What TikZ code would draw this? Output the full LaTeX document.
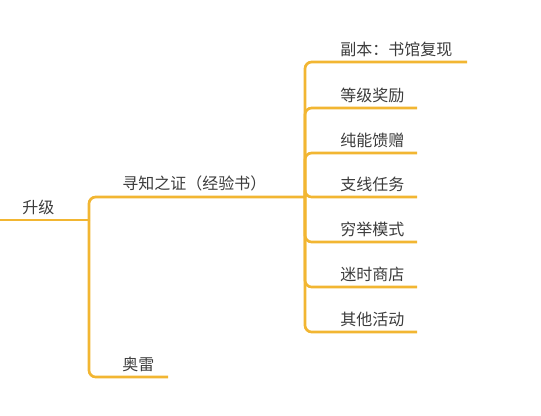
\documentclass[tikz,border=0pt]{standalone}
\usepackage{fontspec}
\newfontfamily\cjk{Noto Sans CJK SC}

\definecolor{branchgold}{HTML}{F2B632}
\definecolor{topicgray}{HTML}{3C3C3C}

\tikzset{
	branch/.style = {draw = branchgold, line width = 2, rounded corners = 5},
	topic/.style  = {anchor = south west, inner xsep = 0, inner ysep = 4,
					 text = topicgray, font = \cjk\fontsize{12}{14}\selectfont},
}

\begin{document}
\begin{tikzpicture}[x = 0.75pt, y = -0.75pt]

	\useasboundingbox (0,0) rectangle (541,415);

	% topics
	\node[topic] (up)    at (22,220)  {升级};
	\node[topic] (proof) at (122,197) {寻知之证（经验书）};
	\node[topic] (ore)   at (122,377) {奥雷};

	\node[topic] (copy)   at (340,62)  {副本：书馆复现};
	\node[topic] (reward) at (340,108) {等级奖励};
	\node[topic] (gift)   at (340,153) {纯能馈赠};
	\node[topic] (quest)  at (340,197) {支线任务};
	\node[topic] (exhaust)at (340,242) {穷举模式};
	\node[topic] (shop)   at (340,287) {迷时商店};
	\node[topic] (other)  at (340,332) {其他活动};

	\coordinate (up-start) at (0,220);
	\coordinate (fork)     at (89,220);
	\coordinate (proof-end) at (305,197);
	\coordinate (ore-end)  at (168,377);

	% connectors
	\draw[branch] (up-start) -- (fork);
	\draw[branch] (fork) |- (proof-end);
	\draw[branch] (fork) |- (ore-end);

	\draw[branch] (proof-end) |- (copy.south west -| 467,0);
	\foreach \leaf in {reward, gift, quest, exhaust, shop, other}
		\draw[branch] (proof-end) |- (\leaf.south west -| 417,0);

\end{tikzpicture}
\end{document}
